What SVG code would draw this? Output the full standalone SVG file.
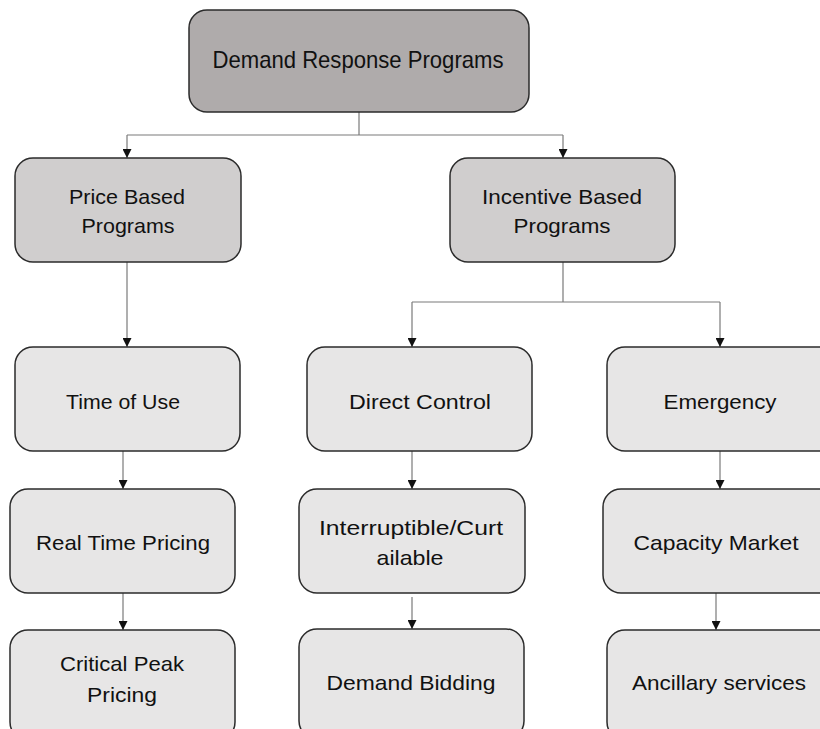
<svg xmlns="http://www.w3.org/2000/svg" width="820" height="729" viewBox="0 0 820 729">
<defs>
<style>
.box{stroke:#2b2b2b;stroke-width:1.5}
.l1{fill:#afabab}
.l2{fill:#d0cece}
.l3{fill:#e7e6e6}
.t{font-family:"Liberation Sans",Arial,sans-serif;font-size:21px;fill:#111;text-anchor:middle}
.c{stroke:#7a7a7a;stroke-width:1.2;fill:none}
</style>
<marker id="arr" viewBox="0 0 10 10" refX="10" refY="5" markerWidth="9" markerHeight="9" markerUnits="userSpaceOnUse" orient="auto">
<path d="M0,0 L10,5 L0,10 Z" fill="#111"/>
</marker>
</defs>
<rect width="820" height="729" fill="#fff"/>
<g id="connectors">
<path class="c" d="M359,112 V135"/>
<path class="c" d="M127,135 H563"/>
<path class="c" d="M127,135 V158" marker-end="url(#arr)"/>
<path class="c" d="M563,135 V158" marker-end="url(#arr)"/>
<path class="c" d="M127,262 V347" marker-end="url(#arr)"/>
<path class="c" d="M563,262 V302 M412,302 H720"/>
<path class="c" d="M412,302 V347" marker-end="url(#arr)"/>
<path class="c" d="M720,302 V347" marker-end="url(#arr)"/>
<path class="c" d="M123,448 V489" marker-end="url(#arr)"/>
<path class="c" d="M412,451 V489" marker-end="url(#arr)"/>
<path class="c" d="M720,451 V489" marker-end="url(#arr)"/>
<path class="c" d="M123,593 V630" marker-end="url(#arr)"/>
<path class="c" d="M412,597 V629" marker-end="url(#arr)"/>
<path class="c" d="M716,593 V630" marker-end="url(#arr)"/>
</g>
<g id="root">
<rect class="box l1" x="189" y="10" width="340" height="102" rx="18"/>
<text class="t" x="358" y="68" style="font-size:24px" textLength="291" lengthAdjust="spacingAndGlyphs">Demand Response Programs</text>
</g>
<g id="price">
<rect class="box l2" x="15" y="158" width="226" height="104" rx="18"/>
<text class="t" x="127" y="204" textLength="116" lengthAdjust="spacingAndGlyphs">Price Based</text>
<text class="t" x="128" y="233" textLength="93" lengthAdjust="spacingAndGlyphs">Programs</text>
</g>
<g id="incentive">
<rect class="box l2" x="450" y="158" width="225" height="104" rx="18"/>
<text class="t" x="562" y="204" textLength="160" lengthAdjust="spacingAndGlyphs">Incentive Based</text>
<text class="t" x="562" y="233" textLength="97" lengthAdjust="spacingAndGlyphs">Programs</text>
</g>
<g id="timeofuse">
<rect class="box l3" x="15" y="347" width="225" height="104" rx="18"/>
<text class="t" x="123" y="409" textLength="114" lengthAdjust="spacingAndGlyphs">Time of Use</text>
</g>
<g id="direct">
<rect class="box l3" x="307" y="347" width="225" height="104" rx="18"/>
<text class="t" x="420" y="409" textLength="142" lengthAdjust="spacingAndGlyphs">Direct Control</text>
</g>
<g id="emergency">
<rect class="box l3" x="607" y="347" width="230" height="104" rx="18"/>
<text class="t" x="720" y="409" textLength="113" lengthAdjust="spacingAndGlyphs">Emergency</text>
</g>
<g id="realtime">
<rect class="box l3" x="10" y="489" width="225" height="104" rx="18"/>
<text class="t" x="123" y="550" textLength="174" lengthAdjust="spacingAndGlyphs">Real Time Pricing</text>
</g>
<g id="interruptible">
<rect class="box l3" x="299" y="489" width="226" height="104" rx="18"/>
<text class="t" x="411" y="535" textLength="184" lengthAdjust="spacingAndGlyphs">Interruptible/Curt</text>
<text class="t" x="410" y="565" textLength="67" lengthAdjust="spacingAndGlyphs">ailable</text>
</g>
<g id="capacity">
<rect class="box l3" x="603" y="489" width="234" height="104" rx="18"/>
<text class="t" x="716" y="550" textLength="165" lengthAdjust="spacingAndGlyphs">Capacity Market</text>
</g>
<g id="critical">
<rect class="box l3" x="10" y="630" width="225" height="110" rx="18"/>
<text class="t" x="122" y="671" textLength="124" lengthAdjust="spacingAndGlyphs">Critical Peak</text>
<text class="t" x="122" y="702" textLength="70" lengthAdjust="spacingAndGlyphs">Pricing</text>
</g>
<g id="bidding">
<rect class="box l3" x="299" y="629" width="225" height="110" rx="18"/>
<text class="t" x="411" y="690" textLength="169" lengthAdjust="spacingAndGlyphs">Demand Bidding</text>
</g>
<g id="ancillary">
<rect class="box l3" x="607" y="630" width="230" height="110" rx="18"/>
<text class="t" x="719" y="690" textLength="174" lengthAdjust="spacingAndGlyphs">Ancillary services</text>
</g>
</svg>
